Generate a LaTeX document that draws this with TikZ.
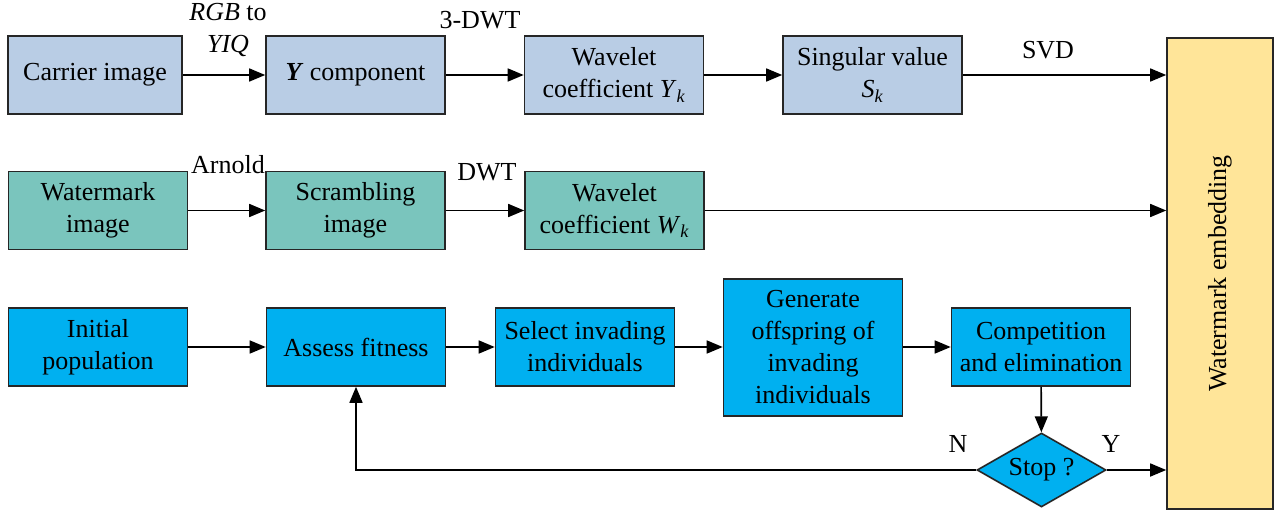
\documentclass[tikz,border=0pt]{standalone}
\usepackage{fontspec}
\setmainfont{Liberation Serif}
\usepackage{tikz}
\usetikzlibrary{shapes.geometric,arrows.meta,positioning,calc}
\usepackage{xcolor}
\definecolor{carrier}{RGB}{185,205,229}
\definecolor{mark}{RGB}{122,197,189}
\definecolor{evolve}{RGB}{0,176,240}
\definecolor{embedding}{RGB}{255,229,153}
\newcommand{\subvar}[2]{\textit{#1}\textsubscript{\textit{#2}}}

\begin{document}
\begin{tikzpicture}[x=1pt,y=-1pt,
    font=\fontsize{26}{32}\selectfont,
    box/.style={draw=black!85,line width=1.6pt,minimum width=179pt,minimum height=78pt,align=center,inner sep=2pt},
    arr/.style={-{Triangle[length=16pt,width=13pt]},line width=1.6pt}]
    \useasboundingbox (0,0) rectangle (1281,513);

    % carrier branch
    \node[box,fill=carrier,minimum width=174pt] (carrier) at (95,75) {Carrier image};
    \node[box,fill=carrier] (ycomp) at (355.5,75) {\textbf{\textit{Y}} component};
    \node[box,fill=carrier] (wavey) at (614,75) {Wavelet\\coefficient \subvar{Y}{k}};
    \node[box,fill=carrier] (singular) at (872.5,75) {Singular value\\\subvar{S}{k}};

    % watermark branch
    \node[box,fill=mark] (wmimg) at (98,210.5) {Watermark\\image};
    \node[box,fill=mark] (scramble) at (355.5,210.5) {Scrambling\\image};
    \node[box,fill=mark] (wavew) at (614.5,210.5) {Wavelet\\coefficient \subvar{W}{k}};

    % optimisation loop
    \node[box,fill=evolve] (initpop) at (98,347) {Initial\\population};
    \node[box,fill=evolve] (assess) at (356,347) {Assess fitness};
    \node[box,fill=evolve] (select) at (585,347) {Select invading\\individuals};
    \node[box,fill=evolve,minimum height=137pt] (generate) at (813,347.5) {Generate\\offspring of\\invading\\individuals};
    \node[box,fill=evolve] (compete) at (1041,347) {Competition\\and elimination};
    \node[draw=black!85,line width=1.6pt,fill=evolve,diamond,aspect=1.7,inner sep=0pt,minimum width=129pt,minimum height=74pt] (stop) at (1041.5,470) {Stop ?};

    \node[box,fill=embedding,minimum width=106pt,minimum height=471pt] (embed) at (1220,273.5) {};
    \node[rotate=90] (embedtxt) at (embed) {Watermark embedding};

    \draw[arr] (carrier) -- (ycomp);
    \draw[arr] (ycomp) -- (wavey);
    \draw[arr] (wavey) -- (singular);
    \draw[arr] (singular.east) -- (singular.east -| embed.west);

    \draw[arr] (wmimg) -- (scramble);
    \draw[arr] (scramble) -- (wavew);
    \draw[arr] (wavew.east) -- (wavew.east -| embed.west);

    \draw[arr] (initpop) -- (assess);
    \draw[arr] (assess) -- (select);
    \draw[arr] (select) -- (select -| generate.west);
    \draw[arr] (generate.east |- compete) -- (compete);
    \draw[arr] (compete) -- (stop);
    \draw[arr] (stop.east) -- (stop.east -| embed.west);
    \draw[arr] (stop.west) -| (assess.south);

    % step labels
    \node[align=center,inner sep=0pt] (rgbyiq) at (228,30) {\textit{RGB} to\\\textit{YIQ}};
    \node (dwt3) at (480,20) {3-DWT};
    \node (svd) at (1048,50) {SVD};
    \node (arnold) at (228,165) {Arnold};
    \node (dwt) at (487,172) {DWT};
    \node (no) at (958,444) {N};
    \node (yes) at (1111,444) {Y};
\end{tikzpicture}
\end{document}
